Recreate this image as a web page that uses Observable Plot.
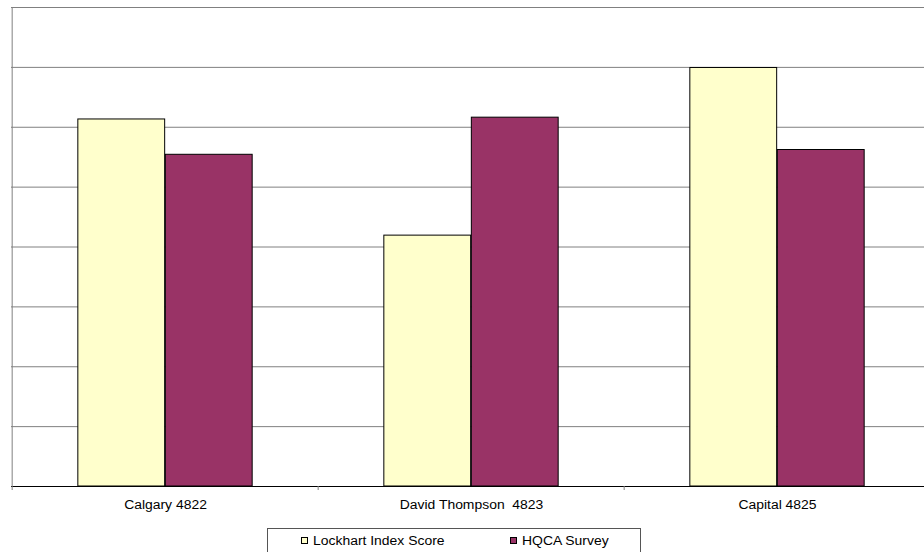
<!DOCTYPE html>
<html>
<head>
<meta charset="utf-8">
<script src="https://cdn.jsdelivr.net/npm/d3@7"></script>
<script src="https://cdn.jsdelivr.net/npm/@observablehq/plot@0.6"></script>
<style>
  html, body { margin: 0; padding: 0; background: #fff; width: 924px; height: 552px; overflow: hidden; }
  #chart svg text { white-space: pre; }
  .legend {
    position: relative; margin-left: 267px; margin-top: 3px;
    width: 372px; height: 40px; border: 1px solid #555; box-sizing: content-box;
    font: 12px "Liberation Sans", Arial, sans-serif; color: #000;
  }
  .legend .sw { position: absolute; top: 8px; width: 5px; height: 5px; border: 1px solid #000; }
  .legend .lb { position: absolute; top: 5px; line-height: 14px; white-space: pre; transform: scaleX(1.16); transform-origin: left center; }
</style>
</head>
<body>
<div id="chart"></div>
<script>
// Hospital groups and their two scores
const categories = ["Calgary 4822", "David Thompson  4823", "Capital 4825"];
const series = ["Lockhart Index Score", "HQCA Survey"];
const lockhart = [6.13, 4.19, 6.99];
const hqca = [5.54, 6.16, 5.62];
const yTicks = [1, 2, 3, 4, 5, 6, 7, 8];
const colors = ["#FFFFCC", "#993366"];

const data = categories.flatMap((c, i) => [
  {category: c, series: series[0], value: lockhart[i]},
  {category: c, series: series[1], value: hqca[i]}
]);

const xRange = [11, 931];
const half = (xRange[1] - xRange[0]) / categories.length / 2; // half a category slot
const barW = 87.5;

const svg = Plot.plot({
  width: 924,
  height: 525,
  marginTop: 7,
  marginBottom: 39,
  marginLeft: 11,
  marginRight: 0,
  style: {fontFamily: "'Liberation Sans', Arial, sans-serif", fontSize: "12px", background: "#fff", color: "#000"},
  x: {type: "band", domain: categories, range: xRange, padding: 0, axis: null},
  y: {domain: [0, 8], range: [486, 7], axis: null},
  color: {domain: series, range: colors},
  marks: [
    Plot.gridY(yTicks, {stroke: "#808080", strokeOpacity: 1}),
    Plot.ruleX([categories[0]], {x: d => d, dx: -half, stroke: "#808080"}),
    Plot.barY(data.filter(d => d.series === series[0]), {
      x: "category", y: "value", fill: "series", stroke: "#000", strokeWidth: 1,
      insetLeft: half - barW, insetRight: half
    }),
    Plot.barY(data.filter(d => d.series === series[1]), {
      x: "category", y: "value", fill: "series", stroke: "#000", strokeWidth: 1,
      insetLeft: half, insetRight: half - barW
    }),
    Plot.ruleY([0], {stroke: "#000"}),
    // category separator ticks
    Plot.axisX({tickSize: 4, tickFormat: () => "", dx: -half, stroke: "#808080", label: null}),
    // category labels
    Plot.axisX({tickSize: 0, tickPadding: 13.5, fontSize: 12, label: null, fill: "#000"})
  ]
});

// widen the category labels slightly
svg.querySelectorAll('[aria-label="x-axis tick label"] text').forEach(t => {
  const tr = t.getAttribute("transform");
  if (tr) t.setAttribute("transform", tr + " scale(1.16,1)");
});

document.getElementById("chart").appendChild(svg);

// legend below the chart
const legend = document.createElement("div");
legend.className = "legend";
const swLeft = [33, 242];
const lbLeft = [45, 254];
series.forEach((s, i) => {
  const sw = document.createElement("div");
  sw.className = "sw";
  sw.style.left = swLeft[i] + "px";
  sw.style.background = colors[i];
  const lb = document.createElement("div");
  lb.className = "lb";
  lb.style.left = lbLeft[i] + "px";
  lb.textContent = s;
  legend.appendChild(sw);
  legend.appendChild(lb);
});
document.body.appendChild(legend);
</script>
</body>
</html>
